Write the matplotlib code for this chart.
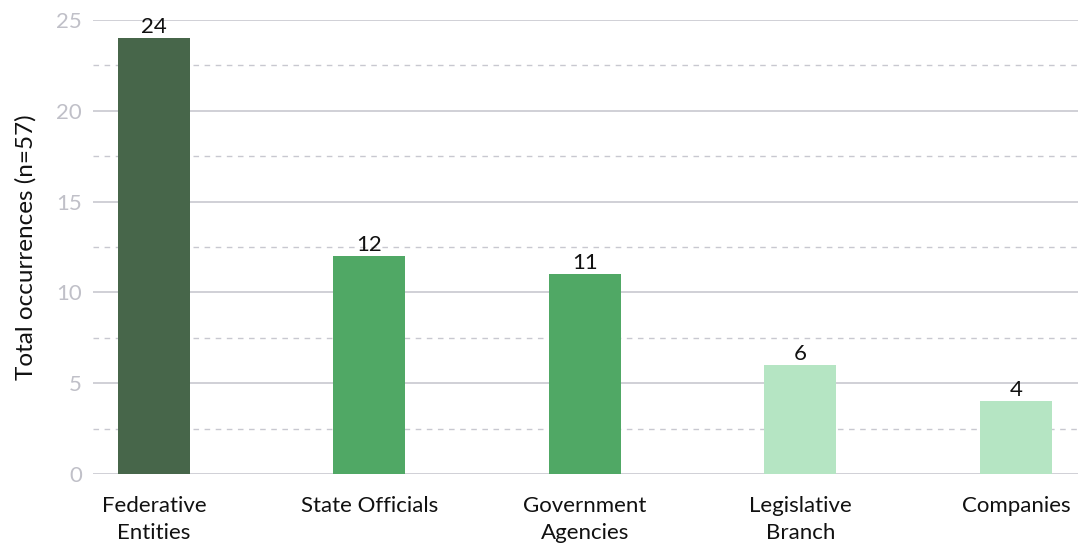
import matplotlib.pyplot as plt
from matplotlib.ticker import MultipleLocator

categories = ["Federative\nEntities", "State Officials", "Government\nAgencies",
              "Legislative\nBranch", "Companies"]
values = [24, 12, 11, 6, 4]
colors = ["#47664a", "#50a865", "#50a865", "#b5e5c3", "#b5e5c3"]

plt.rcParams['font.family'] = ['Lato', 'DejaVu Sans']

fig = plt.figure(figsize=(10.78, 5.5), dpi=100)
ax = fig.add_axes([93 / 1078, 76 / 550, 1 - 93 / 1078, 454 / 550])

x = range(len(categories))
bars = ax.bar(x, values, width=0.334, color=colors, zorder=3)
for b, v in zip(bars, values):
    ax.text(b.get_x() + b.get_width() / 2, v + 0.05, str(v), ha="center", va="bottom",
            fontsize=16, color="#111111", zorder=4)

ax.set_ylim(0, 25)
ax.set_xlim(-0.283, 4.288)
ax.yaxis.set_major_locator(MultipleLocator(5))
ax.yaxis.set_minor_locator(MultipleLocator(2.5))
ax.grid(axis="y", which="major", color="#c8c8d0", linewidth=1.2, zorder=1)
ax.grid(axis="y", which="minor", color="#c8c8d0", linewidth=1, linestyle=(0, (4, 4)), zorder=1)
ax.set_axisbelow(True)

ax.set_xticks(list(x))
ax.set_xticklabels(categories, fontsize=16, color="#111111", linespacing=1.45)
ax.tick_params(axis="y", which="both", length=0, labelsize=16, labelcolor="#c0c0c8", pad=8)
ax.tick_params(axis="x", length=0, pad=16)
for s in ax.spines.values():
    s.set_visible(False)

ax.set_ylabel("Total occurrences (n=57)", fontsize=17.5, color="#111111", labelpad=14)

fig.savefig("out.png", dpi=100)
